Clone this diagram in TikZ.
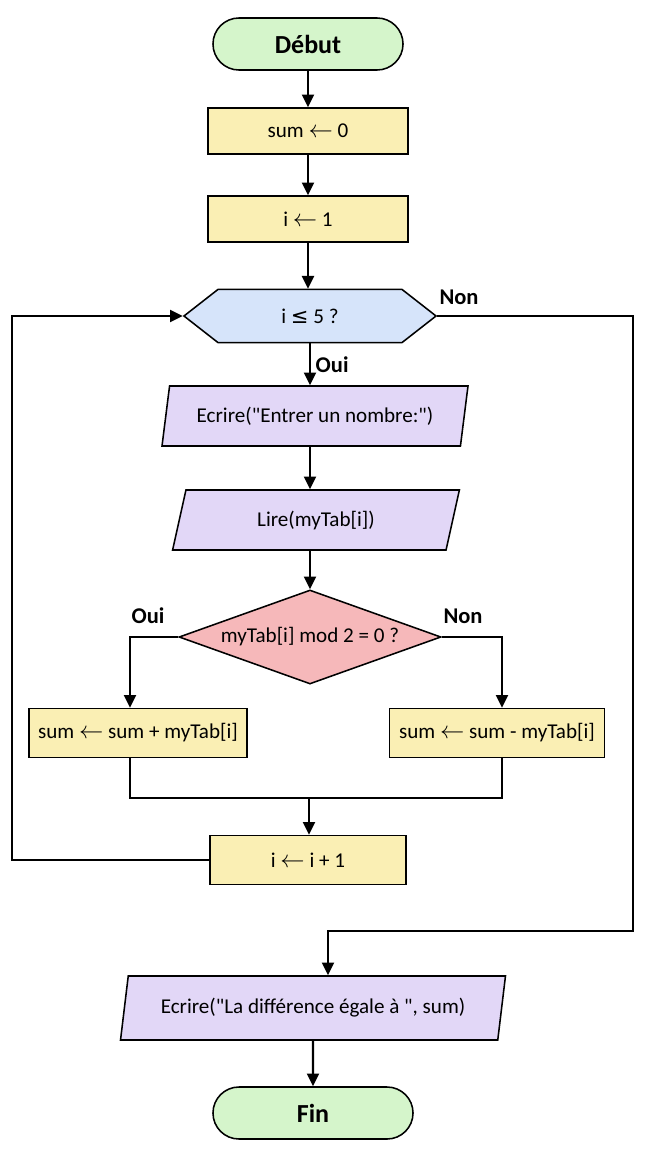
\documentclass[tikz,border=0pt]{standalone}
\usepackage{fontspec}
\setmainfont{Carlito}[Ligatures=TeXOff]
\newfontfamily\symb{DejaVu Sans}
\usetikzlibrary{shapes.geometric,shapes.symbols,arrows.meta}

\newcommand{\fl}{{\fontsize{19}{19}\selectfont$\leftarrow$}}
\newcommand{\infeg}{{\symb ≤}}

\definecolor{vert}{HTML}{D5F5CB}
\definecolor{jaune}{HTML}{FAEFB4}
\definecolor{bleu}{HTML}{D6E4FA}
\definecolor{mauve}{HTML}{E2D7F7}
\definecolor{rose}{HTML}{F6B8BA}

\begin{document}
\begin{tikzpicture}[x=0.025cm, y=-0.025cm,
    every node/.style={font=\fontsize{15}{17}\selectfont},
    terminal/.style={draw, line width=1.1pt, fill=vert, rounded corners=0.65cm, minimum width=4.75cm, minimum height=1.3cm, font=\fontsize{18.5}{20}\selectfont\bfseries},
    action/.style={draw, line width=1.1pt, fill=jaune, minimum height=1.15cm},
    entree/.style={draw, line width=1.1pt, fill=mauve, trapezium, trapezium left angle=77, trapezium right angle=103, trapezium stretches=true, minimum height=1.5cm},
    test/.style={draw, line width=1.1pt, fill=bleu, signal, signal to=west and east, signal pointer angle=76, minimum width=6.3cm, minimum height=1.33cm},
    choix/.style={draw, line width=1.1pt, fill=rose, diamond, aspect=2.8, inner sep=0pt, minimum width=6.55cm, minimum height=2.35cm},
    etiq/.style={font=\fontsize{16}{18}\selectfont\bfseries},
    lien/.style={-{Triangle[length=9pt,width=8.5pt]}, line width=1.5pt}]
    \useasboundingbox (0,0) rectangle (650,1150);

    % Initialisation
    \node[terminal] (debut) at (308,44) {Début};
    \node[action, minimum width=5cm] (sum0) at (308,131) {sum \fl{} 0};
    \node[action, minimum width=5cm] (i1) at (308,219) {i \fl{} 1};

    % Boucle
    \node[test] (cond) at (310,316) {i \infeg{} 5 ?};
    \node[entree, minimum width=7.65cm] (ecrire) at (315,416) {Ecrire("Entrer un nombre:")};
    \node[entree, minimum width=7.2cm] (lire) at (316,520) {Lire(myTab[i])};
    \node[choix] (pair) at (310,637) {myTab[i] mod 2 = 0 ?};
    \node[action, minimum width=5.45cm, minimum height=1.22cm] (plus) at (138,733) {sum \fl{} sum + myTab[i]};
    \node[action, minimum width=5.38cm, minimum height=1.22cm] (moins) at (497,733) {sum \fl{} sum - myTab[i]};
    \node[action, minimum width=4.9cm, minimum height=1.22cm] (incr) at (308,860) {i \fl{} i + 1};

    % Sortie
    \node[entree, minimum width=9.65cm, minimum height=1.6cm] (resultat) at (313,1008) {Ecrire("La différence égale à ", sum)};
    \node[terminal, minimum width=5cm] (fin) at (313,1113) {Fin};

    \coordinate (gauche) at (130,637);
    \coordinate (droite) at (502,637);
    \coordinate (jonction) at (309,798);
    \coordinate (retour) at (12,860);
    \coordinate (bord) at (633,931);
    \coordinate (chute) at (328,931);

    \draw[lien] (debut) -- (sum0);
    \draw[lien] (sum0) -- (i1);
    \draw[lien] (i1.south) -- (i1.south |- cond.north);
    \draw[lien] (cond.south) -- (cond.south |- ecrire.north) node[etiq, midway, right] {Oui};
    \draw[lien] (cond.south |- ecrire.south) -- (cond.south |- lire.north);
    \draw[lien] (cond.south |- lire.south) -- (pair.north);
    \draw[lien] (pair.west) -- (gauche) -- (gauche |- plus.north);
    \draw[lien] (pair.east) -- (droite) -- (droite |- moins.north);
    \node[etiq] at (148,616) {Oui};
    \node[etiq] at (463,616) {Non};
    \draw[line width=1.5pt] (gauche |- plus.south) |- (jonction) -| (droite |- moins.south);
    \draw[lien] (jonction) -- (jonction |- incr.north);
    \draw[lien] (incr.west) -- (retour) |- (cond.west);
    \draw[lien] (cond.east) -| (bord) -- (chute) -- (chute |- resultat.north);
    \node[etiq] at (459,297) {Non};
    \draw[lien] (resultat.south) -- (fin);
\end{tikzpicture}
\end{document}
